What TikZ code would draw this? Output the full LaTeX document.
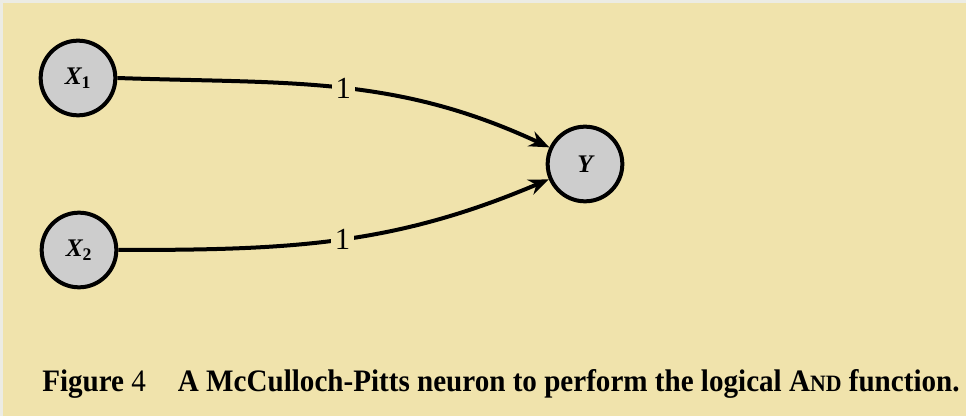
\documentclass[tikz,border=0pt]{standalone}
\usepackage{fontspec}
\setmainfont{Liberation Serif}
\usetikzlibrary{arrows.meta}
\definecolor{bg}{RGB}{240,227,172}
\definecolor{frame}{RGB}{236,236,228}
\definecolor{nodegray}{RGB}{205,205,205}
\tikzset{
  neuron/.style={circle, draw=black, line width=3pt, fill=nodegray, minimum size=56pt, inner sep=0pt, font=\fontsize{19}{19}\selectfont\bfseries\itshape},
  conn/.style={line width=3pt, -{Stealth[length=15pt,width=12pt]}},
  wlabel/.style={fill=bg, inner sep=3pt, font=\fontsize{23}{23}\selectfont}
}
\begin{document}
\begin{tikzpicture}[x=0.75pt,y=-0.75pt]
\useasboundingbox (0,0) rectangle (966,416);
\fill[frame] (0,0) rectangle (966,416);
\fill[bg] (3,3) rectangle (966,416);
\node[neuron] (x1) at (78,78) {X\textsubscript{\upshape 1}};
\node[neuron] (x2) at (79,250) {X\textsubscript{\upshape 2}};
\node[neuron] (y) at (585,164) {Y};
\draw[conn] (x1.east) to[out=-2,in=155] node[wlabel,pos=0.51] {1} (y);
\draw[conn] (x2.east) to[out=0,in=203] node[wlabel,pos=0.51] {1} (y);
\node[anchor=base west, inner sep=0pt] (cap) at (42,391) {\resizebox{688pt}{16.5pt}{\fontsize{20}{20}\selectfont\bfseries Figure {\mdseries 4}\hspace{1.1em}A McCulloch-Pitts neuron to perform the logical A{\fontsize{15}{15}\selectfont ND} function.}};
\end{tikzpicture}
\end{document}
